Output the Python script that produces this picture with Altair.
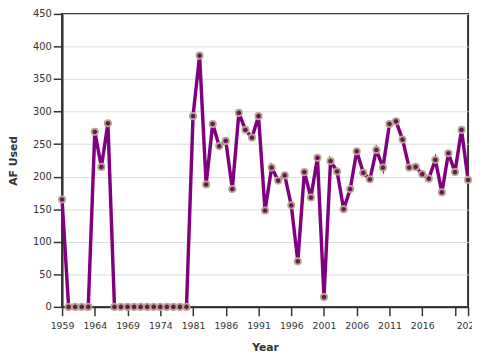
import altair as alt
import pandas as pd

years = ([1959, 1960, 1961, 1962, 1963, 1964, 1965, 1966, 1967, 1968, 1969, 1970,
          1971, 1972, 1973, 1974, 1975, 1976, 1977, 1978]
         + list(range(1981, 2024)))
af_used = [165, 0, 0, 0, 0, 269, 215, 282, 0, 0, 0, 0,
           0, 0, 0, 0, 0, 0, 0, 0,
           293, 386, 188, 281, 247, 255, 181, 298, 272, 260,
           293, 148, 214, 194, 202, 156, 70, 207, 168, 229,
           15, 224, 208, 150, 181, 239, 206, 196, 241, 214,
           281, 285, 257, 214, 215, 204, 197, 226, 176, 236,
           207, 272, 195]

tick_years = [1959, 1964, 1969, 1974, 1981, 1986, 1991, 1996, 2001, 2006, 2011, 2016, 2021, 2023]
y_ticks = [0, 50, 100, 150, 200, 250, 300, 350, 400, 450]

df = pd.DataFrame({"Year": years, "AF Used": af_used})

font = "DejaVu Sans"

x_enc = alt.X(
    "Year:O",
    sort="ascending",
    scale=alt.Scale(type="point", padding=0),
    axis=alt.Axis(
        values=tick_years,
        labelAngle=0,
        labelOverlap=False,
        labelBound=False,
        labelFlush=False,
        labelExpr="datum.value == 2021 ? '' : datum.label",
        tickSize=9,
        labelPadding=5,
        titleY=35,
        grid=False,
    ),
    title="Year",
)
y_enc = alt.Y(
    "AF Used:Q",
    scale=alt.Scale(domain=[0, 450], nice=False),
    axis=alt.Axis(values=y_ticks, tickSize=9, labelPadding=2, titleX=-44, grid=True),
    title="AF Used",
)

line = alt.Chart(df).mark_line(color="#800080", strokeWidth=3.5).encode(x=x_enc, y=y_enc)
pts = alt.Chart(df).mark_point(
    filled=True, fill="#6a1466", stroke="#b8aa86", strokeWidth=1.8, size=42, opacity=1
).encode(x=x_enc, y=y_enc)

chart = (
    alt.layer(line, pts)
    .properties(
        width=413,
        height=298,
        autosize=alt.AutoSizeParams(type="none"),
        padding={"left": 55, "top": 3, "right": 4, "bottom": 51},
    )
    .configure_view(stroke="#333333", strokeWidth=2)
    .configure_axis(
        labelFont=font,
        titleFont=font,
        labelFontSize=9.5,
        titleFontSize=11,
        titleFontWeight="bold",
        labelColor="#333333",
        titleColor="#333333",
        domainColor="#333333",
        domainWidth=2,
        tickColor="#333333",
        tickWidth=1.5,
        gridColor="#dddddd",
        gridWidth=1,
    )
    .configure_axisY(labelFontSize=10)
)

chart.save("out.html", embed_options={"renderer": "svg", "actions": False})
